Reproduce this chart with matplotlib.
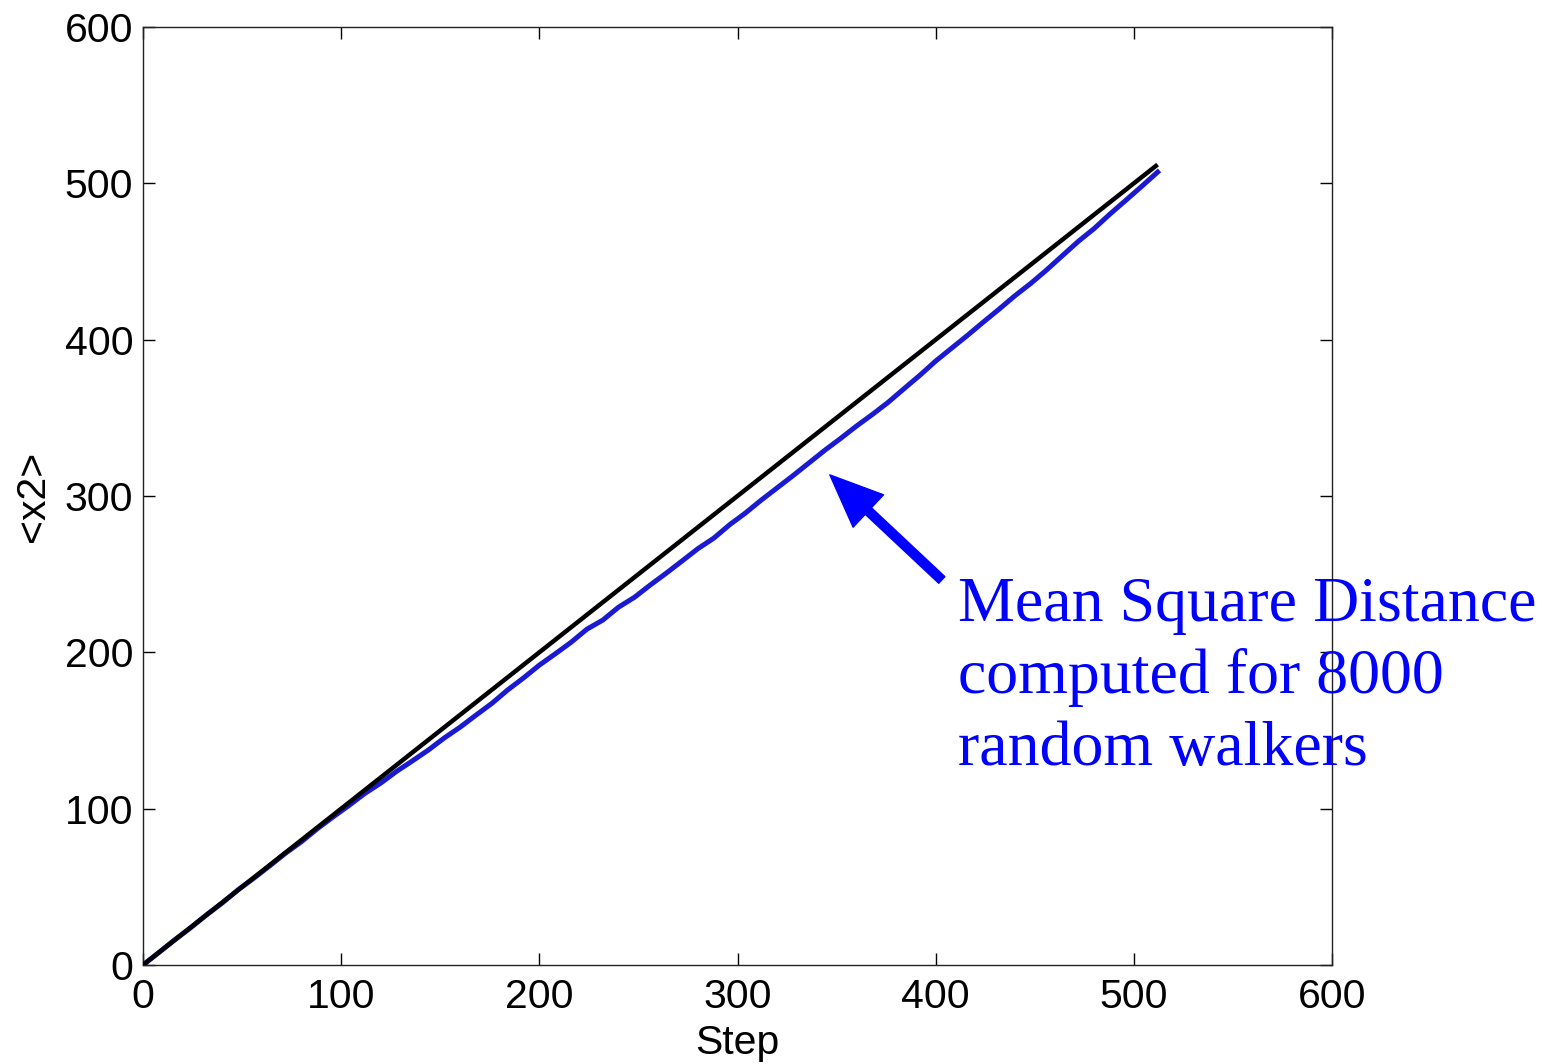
import matplotlib
matplotlib.use("Agg")
import matplotlib.pyplot as plt

# ---- data ----
steps = [0, 8, 16, 24, 32, 40, 48, 56, 64, 72, 80, 88, 96, 104, 112, 120, 128,
         136, 144, 152, 160, 168, 176, 184, 192, 200, 208, 216, 224, 232, 240,
         248, 256, 264, 272, 280, 288, 296, 304, 312, 320, 328, 336, 344, 352,
         360, 368, 376, 384, 392, 400, 408, 416, 424, 432, 440, 448, 456, 464,
         472, 480, 488, 496, 504, 512]
msd = [0, 8.0, 16.1, 23.8, 32.0, 39.7, 48.1, 55.6, 63.5, 71.6, 78.9, 87.2, 94.8,
       102.1, 109.8, 116.4, 123.9, 130.6, 137.5, 145.2, 152.1, 159.8, 167.3,
       175.9, 183.6, 191.8, 199.0, 206.4, 214.8, 220.6, 228.9, 235.2, 243.1,
       250.6, 258.4, 266.3, 273.0, 281.6, 289.1, 297.4, 305.2, 313.0, 321.1,
       329.2, 336.8, 344.7, 352.1, 359.9, 368.6, 377.2, 386.3, 394.5, 402.7,
       411.2, 419.5, 428.1, 436.0, 444.6, 453.8, 462.9, 471.1, 480.4, 489.2,
       498.1, 507.2]
theory_x = [0, 512]
theory_y = [0, 512]

xticks = [0, 100, 200, 300, 400, 500, 600]
yticks = [0, 100, 200, 300, 400, 500, 600]
annotation_lines = ["Mean Square Distance", "computed for 8000", "random walkers"]
arrow_tip = (346.6, 313.5)
arrow_tail = (403.1, 246.3)

W, H = 1549, 1064
fig = plt.figure(figsize=(W / 100, H / 100), dpi=100)
ax = fig.add_axes([143 / W, 1 - 965 / H, (1332 - 143) / W, (965 - 27) / H])

ax.plot(theory_x, theory_y, color="black", lw=3.2, zorder=3, solid_capstyle="butt")
ax.plot(steps, msd, color="#1a1ad2", lw=3.6, zorder=2)

ax.set_xlim(0, 600)
ax.set_ylim(0, 600)
ax.set_xticks(xticks)
ax.set_yticks(yticks)
for lab in ax.get_xticklabels() + ax.get_yticklabels():
    lab.set_family("Liberation Sans")
    lab.set_fontsize(29.5)
ax.tick_params(direction="in", length=8.6, width=1, top=True, right=True,
               color="black")
ax.tick_params(axis="x", pad=9)
ax.tick_params(axis="y", pad=7)
for s in ax.spines.values():
    s.set_linewidth(1.0)
    s.set_color("#222222")

ax.set_xlabel("Step", family="Liberation Sans", fontsize=29.5, labelpad=6)
ax.set_ylabel("<x2>", family="Liberation Sans", fontsize=29.5, labelpad=9)

ax.annotate("", xy=arrow_tip, xytext=arrow_tail, xycoords="data",
            arrowprops=dict(facecolor="#0000ff", edgecolor="#0000ff",
                            width=6.5, headwidth=32, headlength=38,
                            shrink=0.0), zorder=5, annotation_clip=False)

baselines = [621, 693, 765]
for line, b in zip(annotation_lines, baselines):
    fig.text(958 / W, 1 - b / H, line, family="Liberation Serif", fontsize=46,
             color="#0000ff", va="baseline", ha="left", zorder=1)

fig.savefig("out.png", dpi=100, facecolor="white")
